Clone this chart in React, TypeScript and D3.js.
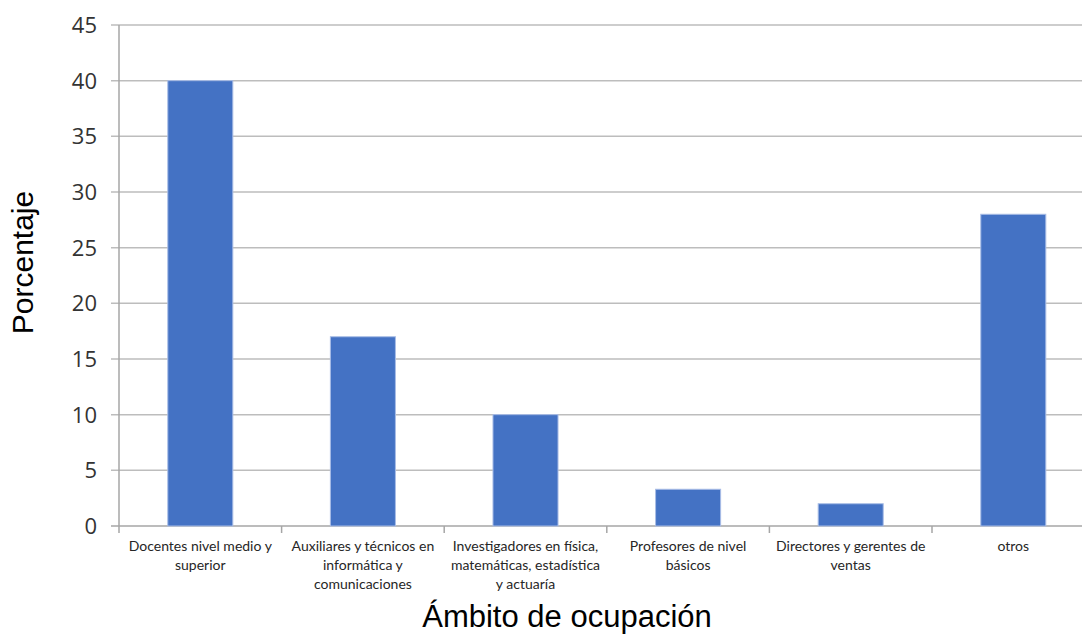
import React from "react";
import * as d3 from "d3";

const categories = [
  "Docentes nivel medio y\nsuperior",
  "Auxiliares y técnicos en\ninformática y\ncomunicaciones",
  "Investigadores en física,\nmatemáticas, estadística\ny actuaría",
  "Profesores de nivel\nbásicos",
  "Directores y gerentes de\nventas",
  "otros",
];
const values = [40, 17, 10, 3.3, 2, 28];
const yTicks = [0, 5, 10, 15, 20, 25, 30, 35, 40, 45];
const yTitle = "Porcentaje";
const xTitle = "Ámbito de ocupación";

export default function App() {
  const W = 1082, H = 634;
  const left = 119, top = 25, bottom = 526;
  const step = 162.6;
  const right = left + step * categories.length;
  const x = d3.scaleBand<number>().domain(d3.range(categories.length)).range([left, right]).paddingInner(0.6).paddingOuter(0.3);
  const xb = d3.scaleLinear().domain([0, categories.length]).range([left, right]);
  const y = d3.scaleLinear().domain([0, 45]).range([bottom, top]);
  return (
    <svg width={W} height={H} style={{ position: "absolute", left: 0, top: 0, background: "#fff" }}>
      {yTicks.map((t) => (
        <g key={t}>
          <line x1={111} x2={right} y1={y(t)} y2={y(t)} stroke={t === 0 ? "#a6a6a6" : "#bdbdbd"} strokeWidth={1.5} />
          <text x={97} y={y(t)} dy="0.36em" textAnchor="end" fontFamily="Open Sans" fontSize={22} fill="#333">{t}</text>
        </g>
      ))}
      <line x1={left} x2={left} y1={top} y2={bottom} stroke="#a6a6a6" strokeWidth={1.5} />
      {d3.range(categories.length + 1).map((i) => (
        <line key={i} x1={xb(i)} x2={xb(i)} y1={bottom} y2={bottom + 7} stroke="#a6a6a6" strokeWidth={1.5} />
      ))}
      {values.map((v, i) => (
        <rect key={i} x={x(i)} y={y(v)} width={x.bandwidth()} height={y(0) - y(v)} fill="#4472C4" stroke="#a9bde6" strokeWidth={1} />
      ))}
      {categories.map((c, i) => (
        <text key={i} textAnchor="middle" fontFamily="Lato" fontSize={14} fill="#262626">
          {c.split("\n").map((ln, j) => (
            <tspan key={j} x={(x(i) as number) + x.bandwidth() / 2} y={551 + j * 19}>{ln}</tspan>
          ))}
        </text>
      ))}
      <text x={567} y={627} textAnchor="middle" fontFamily="Liberation Sans" fontSize={31} fill="#000">{xTitle}</text>
      <text transform={`translate(33,262.5) rotate(-90)`} textAnchor="middle" fontFamily="Liberation Sans" fontSize={30} fill="#000">{yTitle}</text>
    </svg>
  );
}
